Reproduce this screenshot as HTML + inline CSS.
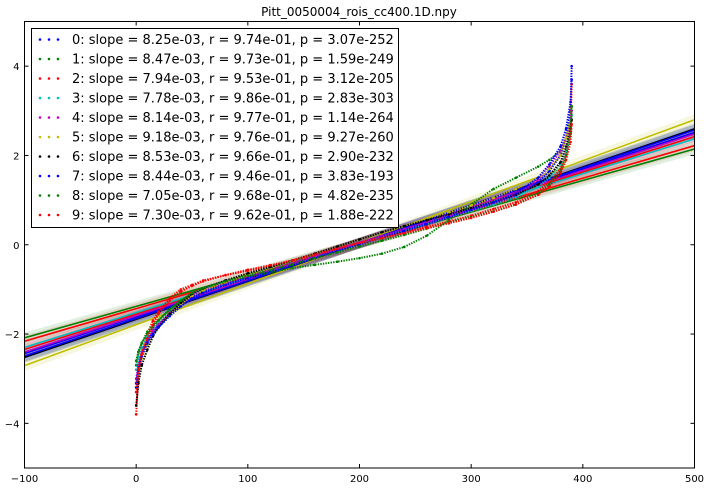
<!DOCTYPE html>
<html><head><meta charset="utf-8"><style>
body{margin:0;background:#fff;}
svg{display:block;font-family:"DejaVu Sans","Liberation Sans",sans-serif;}
</style></head><body>
<svg id="chart" width="709" height="489">
<rect width="709" height="489" fill="#fff"/>
<text x="359" y="16" font-size="12" text-anchor="middle">Pitt_0050004_rois_cc400.1D.npy</text>
<g id="plot"></g>
<g id="axes"></g>
<g id="legend"></g>
</svg>
<script>
const xTicks=[-100,0,100,200,300,400,500];
const yTicks=[-4,-2,0,2,4];
const colors=['#0000ff','#008000','#ff0000','#00bfbf','#bf00bf','#bfbf00','#000000','#0000ff','#008000','#ff0000'];
const labels=['0: slope = 8.25e-03, r = 9.74e-01, p = 3.07e-252','1: slope = 8.47e-03, r = 9.73e-01, p = 1.59e-249','2: slope = 7.94e-03, r = 9.53e-01, p = 3.12e-205','3: slope = 7.78e-03, r = 9.86e-01, p = 2.83e-303','4: slope = 8.14e-03, r = 9.77e-01, p = 1.14e-264','5: slope = 9.18e-03, r = 9.76e-01, p = 9.27e-260','6: slope = 8.53e-03, r = 9.66e-01, p = 2.90e-232','7: slope = 8.44e-03, r = 9.46e-01, p = 3.83e-193','8: slope = 7.05e-03, r = 9.68e-01, p = 4.82e-235','9: slope = 7.30e-03, r = 9.62e-01, p = 1.88e-222'];
const slopes=[8.25e-3,8.47e-3,7.94e-3,7.78e-3,8.14e-3,9.18e-3,8.53e-3,8.44e-3,7.05e-3,7.30e-3];
const intercepts=[-1.61,-1.66,-1.55,-1.52,-1.59,-1.79,-1.67,-1.65,-1.38,-1.43];
const sampleX=[0,2,5,10,15,20,30,40,50,60,80,100,120,140,160,180,200,220,240,260,280,300,320,340,360,370,380,385,389,390];
const s0=[-3.1,-2.75,-2.45,-2.15,-1.95,-1.8,-1.55,-1.35,-1.15,-1.05,-0.88,-0.73,-0.58,-0.43,-0.28,-0.12,0.03,0.18,0.33,0.48,0.63,0.78,0.93,1.1,1.4,1.65,2.0,2.4,3.0,4.0];
const s1=[-2.7,-2.4,-2.2,-2.0,-1.85,-1.7,-1.45,-1.25,-1.1,-1.0,-0.85,-0.72,-0.62,-0.52,-0.45,-0.38,-0.3,-0.2,-0.05,0.2,0.55,0.9,1.25,1.5,1.75,1.9,2.1,2.4,2.8,3.1];
const s2=[-3.8,-2.9,-2.4,-2.0,-1.7,-1.5,-1.2,-1.0,-0.9,-0.8,-0.68,-0.58,-0.48,-0.36,-0.22,-0.08,0.05,0.17,0.28,0.4,0.52,0.65,0.8,0.95,1.2,1.4,1.7,2.1,2.6,3.6];
const s3=[-2.8,-2.55,-2.3,-2.05,-1.9,-1.75,-1.5,-1.3,-1.12,-1.0,-0.84,-0.7,-0.55,-0.4,-0.26,-0.11,0.04,0.19,0.33,0.47,0.62,0.76,0.9,1.06,1.3,1.5,1.8,2.1,2.5,2.9];
const s4=[-3.0,-2.7,-2.4,-2.1,-1.92,-1.78,-1.52,-1.32,-1.13,-1.02,-0.86,-0.71,-0.56,-0.41,-0.26,-0.1,0.05,0.2,0.35,0.5,0.64,0.79,0.94,1.12,1.45,1.75,2.1,2.4,2.7,3.0];
const s5=[-3.2,-2.9,-2.55,-2.25,-2.0,-1.85,-1.58,-1.35,-1.15,-1.02,-0.84,-0.68,-0.52,-0.36,-0.2,-0.04,0.12,0.27,0.42,0.57,0.72,0.88,1.05,1.25,1.5,1.7,2.0,2.4,2.8,3.1];
const s6=[-3.6,-3.1,-2.7,-2.35,-2.05,-1.85,-1.55,-1.3,-1.1,-0.98,-0.8,-0.64,-0.5,-0.35,-0.2,-0.04,0.12,0.28,0.42,0.55,0.68,0.82,0.96,1.12,1.35,1.55,1.85,2.2,2.6,2.8];
const s7=[-3.2,-2.8,-2.5,-2.2,-2.0,-1.85,-1.6,-1.38,-1.2,-1.08,-0.9,-0.75,-0.6,-0.45,-0.3,-0.14,0.01,0.16,0.31,0.46,0.62,0.78,0.95,1.15,1.5,1.8,2.2,2.6,3.2,3.7];
const s8=[-2.6,-2.4,-2.2,-1.95,-1.8,-1.68,-1.45,-1.25,-1.08,-0.97,-0.82,-0.7,-0.57,-0.44,-0.3,-0.17,-0.04,0.09,0.22,0.36,0.5,0.62,0.75,0.9,1.15,1.35,1.65,2.0,2.5,3.1];
const s9=[-3.3,-2.8,-2.45,-2.1,-1.8,-1.55,-1.25,-1.05,-0.92,-0.82,-0.68,-0.56,-0.46,-0.35,-0.22,-0.09,0.04,0.15,0.26,0.37,0.48,0.6,0.74,0.9,1.12,1.3,1.6,1.9,2.3,2.7];
const series=[s0,s1,s2,s3,s4,s5,s6,s7,s8,s9];

const L=24.5,R=694.5,T=21.5,B=468;
const xs=v=>L+(v+100)/600*(R-L);
const ys=v=>B-(v+5)/10*(B-T);
const NS='http://www.w3.org/2000/svg';
function mk(tag,at,parent){const e=document.createElementNS(NS,tag);for(const k in at)e.setAttribute(k,at[k]);parent.appendChild(e);return e;}
const plot=document.getElementById('plot'),axes=document.getElementById('axes'),leg=document.getElementById('legend');
const clip=mk('clipPath',{id:'cp'},plot);mk('rect',{x:L,y:T,width:R-L,height:B-T},clip);
const pg=mk('g',{'clip-path':'url(#cp)'},plot);
series.forEach((s,i)=>{
  const m=slopes[i],b=intercepts[i],w=0.12;
  const band=mk('polygon',{points:`${xs(-100)},${ys(m*-100+b-w)} ${xs(500)},${ys(m*500+b-w)} ${xs(500)},${ys(m*500+b+w)} ${xs(-100)},${ys(m*-100+b+w)}`,fill:colors[i],'fill-opacity':0.12},pg);
  
  
});
series.forEach((s,i)=>{
  const m=slopes[i],b=intercepts[i];
  const ln=mk('line',{x1:xs(-100),y1:ys(m*-100+b),x2:xs(500),y2:ys(m*500+b),stroke:colors[i],'stroke-width':1.6},pg);
  
  
});
series.forEach((s,i)=>{
  const g=mk('g',{},pg);
  
  
  const pts=s.map((v,j)=>xs(sampleX[j])+','+ys(v)).join(' ');
  mk('polyline',{points:pts,fill:'none',stroke:colors[i],'stroke-width':2,'stroke-dasharray':'1.4 1.2'},g);
  s.forEach((v,j)=>{
    const c=mk('circle',{cx:xs(sampleX[j]),cy:ys(v),r:1.3,fill:colors[i]},g);
    
    
  });
});
mk('rect',{x:L,y:T,width:R-L,height:B-T,fill:'none',stroke:'#000','stroke-width':1},axes);
const fmt=t=>t<0?'\u2212'+Math.abs(t):String(t);
xTicks.forEach(t=>{
  const x=xs(t);
  mk('line',{x1:x,y1:B,x2:x,y2:B-4,stroke:'#000'},axes);
  mk('line',{x1:x,y1:T,x2:x,y2:T+4,stroke:'#000'},axes);
  const tx=mk('text',{x:x,y:B+14,'font-size':10,'text-anchor':'middle'},axes);tx.textContent=fmt(t);
  
  
});
yTicks.forEach(t=>{
  const y=ys(t);
  mk('line',{x1:L,y1:y,x2:L+4,y2:y,stroke:'#000'},axes);
  mk('line',{x1:R,y1:y,x2:R-4,y2:y,stroke:'#000'},axes);
  const tx=mk('text',{x:L-5,y:y+4,'font-size':10,'text-anchor':'end'},axes);tx.textContent=fmt(t);
  
  
});
mk('rect',{x:31.5,y:28.5,width:367,height:199,fill:'#fff',stroke:'#000','stroke-width':1},leg);
labels.forEach((lab,i)=>{
  const y=39.5+i*19.5;
  const g=mk('g',{},leg);
  
  
  [40,49,58].forEach(x=>mk('circle',{cx:x,cy:y,r:1.3,fill:colors[i]},g));
  const t=mk('text',{x:72,y:y+4.5,'font-size':13},g);t.textContent=lab;
});
</script>
</body></html>
